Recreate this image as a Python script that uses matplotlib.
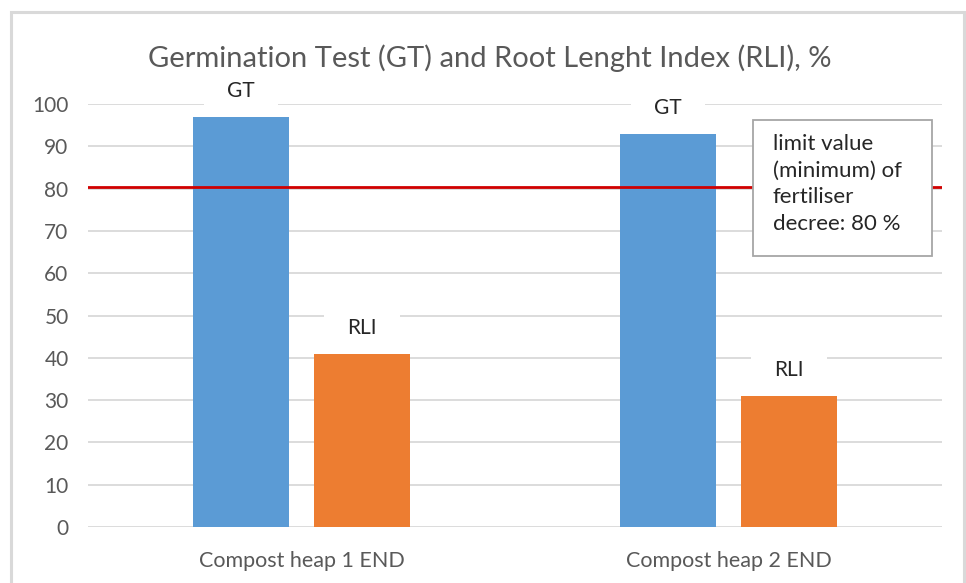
import numpy as np
import matplotlib.pyplot as plt
from matplotlib.patches import Rectangle

plt.rcParams['font.family'] = ['Lato', 'DejaVu Sans']

categories = ['Compost heap 1 END', 'Compost heap 2 END']
series = ['GT', 'RLI']
gt = [97, 93]
rli = [41, 31]
limit = 80.4
yticks = list(range(0, 101, 10))
note = 'limit value\n(minimum) of\nfertiliser\ndecree: 80 %'

fig = plt.figure(figsize=(9.66, 5.83), dpi=100)
# outer chart frame
fig.patches.append(Rectangle((11 / 966, -0.1), 953 / 966, 1 - 12 / 583 + 0.1,
                             transform=fig.transFigure, fill=False,
                             edgecolor='#d9d9d9', linewidth=2.2))
ax = fig.add_axes([88 / 966, 56 / 583, 854 / 966, 423 / 583])

x = np.arange(len(categories))
w = 0.225
off = 0.142
b1 = ax.bar(x - off, gt, w, color='#5b9bd5', zorder=3)
b2 = ax.bar(x + off, rli, w, color='#ed7d31', zorder=3)

for bars, name in [(b1, 'GT'), (b2, 'RLI')]:
    for r in bars:
        ax.annotate(name, (r.get_x() + r.get_width() / 2, r.get_height()),
                    xytext=(0, 26), textcoords='offset pixels',
                    ha='center', va='center', fontsize=15, color='#262626',
                    zorder=2.5,
                    bbox=dict(boxstyle='square,pad=1.1', fc='white', ec='none'))

ax.axhline(limit, color='#d00000', linewidth=2, zorder=4)

ax.set_xlim(-0.5, 1.5)
ax.set_ylim(0, 100)
ax.set_yticks(yticks)
ax.set_xticks(x)
ax.set_xticklabels(categories)
ax.grid(axis='y', color='#d9d9d9', linewidth=1.3, zorder=0)
for s in ax.spines.values():
    s.set_visible(False)
ax.tick_params(axis='y', length=0, pad=14, labelsize=15, labelcolor='#595959')
ax.tick_params(axis='x', length=0, pad=17, labelsize=15.5, labelcolor='#595959')

ax.set_title('Germination Test (GT) and Root Lenght Index (RLI), %',
             fontsize=21, color='#595959', pad=27, x=(490 - 88) / 854)

# note box
ax.add_patch(Rectangle((1.057, 64.1), 0.42, 32.1, facecolor='white',
                       edgecolor='#a6a6a6', linewidth=1.3, zorder=6))
ax.text(1.104, 92.9, note, ha='left', va='top', fontsize=16,
        color='#262626', linespacing=1.42, zorder=7)

fig.savefig('out.png', dpi=100)
